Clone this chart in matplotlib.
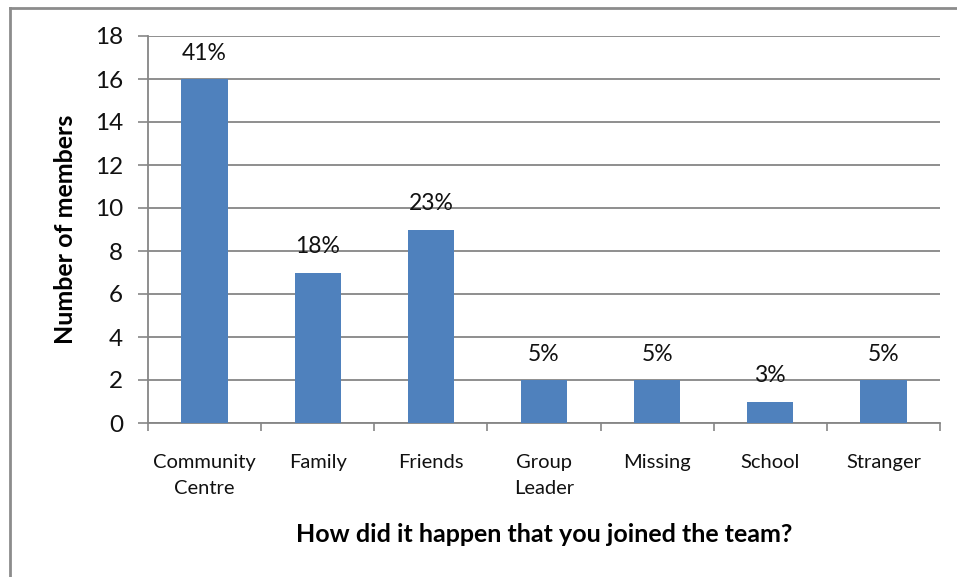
import matplotlib.pyplot as plt
from matplotlib.lines import Line2D

categories = ["Community\nCentre", "Family", "Friends", "Group\nLeader",
              "Missing", "School", "Stranger"]
members = [16, 7, 9, 2, 2, 1, 2]
shares = ["41%", "18%", "23%", "5%", "5%", "3%", "5%"]

plt.rcParams['font.family'] = ['Lato', 'DejaVu Sans']
grid_col = "#868686"

fig = plt.figure(figsize=(9.57, 5.77), dpi=100)
ax = fig.add_axes([148/957, 1 - 423/577, 792/957, 387/577])

x = range(len(categories))
bars = ax.bar(x, members, width=0.41, color="#4F81BD", zorder=3)
for b, s in zip(bars, shares):
    ax.text(b.get_x() + b.get_width()/2, b.get_height() + 0.72, s,
            ha="center", va="bottom", fontsize=16.5, color="#111111", zorder=4)

ax.set_xlim(-0.5, len(categories) - 0.5)
ax.set_ylim(0, 18)
ax.set_yticks(range(0, 19, 2))
ax.tick_params(axis="y", labelsize=17.5, length=7, width=1.2, color=grid_col,
               pad=11, labelcolor="#111111")
ax.yaxis.grid(True, color=grid_col, linewidth=1.3, zorder=0)

# category labels sit between the boundary ticks
ax.set_xticks([i - 0.5 for i in range(len(categories) + 1)], minor=False)
ax.set_xticklabels([])
ax.tick_params(axis="x", length=6, width=1.2, color=grid_col)
ax.set_xticks(list(x), minor=True)
ax.set_xticklabels(categories, minor=True, fontsize=14.5, color="#111111",
                   linespacing=1.65, va="top")
ax.tick_params(axis="x", which="minor", length=0, pad=22)

for side in ["top", "right"]:
    ax.spines[side].set_visible(False)
for side in ["left", "bottom"]:
    ax.spines[side].set_color(grid_col)
    ax.spines[side].set_linewidth(1.3)

ax.set_ylabel("Number of members", fontsize=18, fontweight="bold")
ax.yaxis.set_label_coords(-0.09, 0.5)
fig.text(544/957, 1 - 535/577, "How did it happen that you joined the team?",
         ha="center", va="center", fontsize=18, fontweight="bold")

# outer frame (top and left edges)
fig.add_artist(Line2D([9.5/957, 9.5/957], [0, 1 - 7.5/577], transform=fig.transFigure,
                      color="#8c8c8c", linewidth=2))
fig.add_artist(Line2D([9.5/957, 1], [1 - 7.5/577, 1 - 7.5/577], transform=fig.transFigure,
                      color="#8c8c8c", linewidth=2))

fig.savefig("out.png", dpi=100)
